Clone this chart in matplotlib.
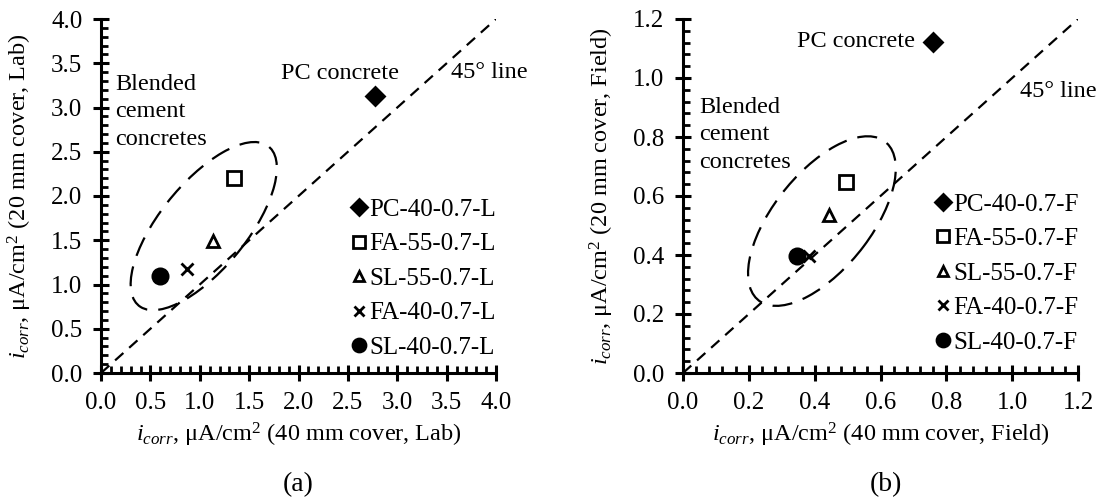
import matplotlib
matplotlib.use("Agg")
import matplotlib.pyplot as plt
from matplotlib.patches import Ellipse
from matplotlib.ticker import MultipleLocator, FormatStrFormatter

plt.rcParams['font.family'] = ['Liberation Serif', 'DejaVu Serif']
plt.rcParams['mathtext.fontset'] = 'custom'
plt.rcParams['mathtext.rm'] = 'Liberation Serif'
plt.rcParams['mathtext.it'] = 'Liberation Serif:italic'

# ---------------- data ----------------
labels_lab = ["PC-40-0.7-L", "FA-55-0.7-L", "SL-55-0.7-L", "FA-40-0.7-L", "SL-40-0.7-L"]
x_lab = [2.77, 1.35, 1.13, 0.87, 0.60]
y_lab = [3.13, 2.20, 1.49, 1.17, 1.10]

labels_field = ["PC-40-0.7-F", "FA-55-0.7-F", "SL-55-0.7-F", "FA-40-0.7-F", "SL-40-0.7-F"]
x_field = [0.760, 0.494, 0.443, 0.384, 0.345]
y_field = [1.123, 0.648, 0.534, 0.397, 0.397]

markers = ["D", "s", "^", "x", "o"]
filled = [True, False, False, True, True]
msizes = [9, 10, 9, 9, 11]

# ellipse (center, width, height, angle) in data units
ell_lab = ((1.04, 1.66), 2.23, 0.91, 55)
ell_field = ((0.422, 0.515), 0.662, 0.306, 56)

fig = plt.figure(figsize=(10.97, 5.0), dpi=100)
ax1 = fig.add_axes([0.0921, 0.254, 0.3601, 0.708])
ax2 = fig.add_axes([0.6226, 0.254, 0.3601, 0.708])

TICK_FS = 18
LAB_FS = 17.5
LEG_FS = 18
ANN_FS = 17.5


def style(ax, lim, major, minor, xl, yl):
    ax.set_xlim(0, lim)
    ax.set_ylim(0, lim)
    for s in ['top', 'right']:
        ax.spines[s].set_visible(False)
    for s in ['left', 'bottom']:
        ax.spines[s].set_linewidth(2.2)
    ax.xaxis.set_major_locator(MultipleLocator(major))
    ax.yaxis.set_major_locator(MultipleLocator(major))
    ax.xaxis.set_minor_locator(MultipleLocator(minor))
    ax.yaxis.set_minor_locator(MultipleLocator(minor))
    ax.xaxis.set_major_formatter(FormatStrFormatter('%.1f'))
    ax.yaxis.set_major_formatter(FormatStrFormatter('%.1f'))
    ax.tick_params(which='major', direction='inout', length=11, width=2.2,
                   labelsize=TICK_FS, pad=8)
    ax.tick_params(which='minor', direction='in', length=5, width=2.0)
    ax.set_xlabel(xl, fontsize=LAB_FS, labelpad=5)
    ax.set_ylabel(yl, fontsize=LAB_FS, labelpad=12)


def draw(ax, xs, ys, labels, lim, ell):
    ax.plot([0, lim], [0, lim], ls=(0, (5, 3.5)), color='black', lw=1.6, zorder=1)
    c, w, h, a = ell
    ax.add_patch(Ellipse(c, w, h, angle=a, fill=False, ec='black', lw=1.6,
                         ls=(0, (9, 5)), zorder=1))
    for x, y, lab, m, f, ms in zip(xs, ys, labels, markers, filled, msizes):
        ax.plot([x], [y], ls='none', marker=m, ms=ms, mew=2,
                mfc='black' if f else 'white', mec='black', label=lab,
                clip_on=False, zorder=3)


draw(ax1, x_lab, y_lab, labels_lab, 4.0, ell_lab)
draw(ax2, x_field, y_field, labels_field, 1.2, ell_field)

style(ax1, 4.0, 0.5, 0.1,
      r"$i_{corr}$, μA/cm$^2$ (40 mm cover, Lab)",
      r"$i_{corr}$, μA/cm$^2$ (20 mm cover, Lab)")
style(ax2, 1.2, 0.2, 0.04,
      r"$i_{corr}$, μA/cm$^2$ (40 mm cover, Field)",
      r"$i_{corr}$, μA/cm$^2$ (20 mm cover, Field)")

ax1.legend(loc='lower left', bbox_to_anchor=(0.635, 0.04), frameon=False,
           fontsize=LEG_FS, handlelength=0.6, handletextpad=0.1, markerscale=0.85,
           labelspacing=0.48, borderaxespad=0, borderpad=0)
ax2.legend(loc='lower left', bbox_to_anchor=(0.64, 0.055), frameon=False,
           fontsize=LEG_FS, handlelength=0.6, handletextpad=0.1, markerscale=0.85,
           labelspacing=0.48, borderaxespad=0, borderpad=0)

# annotations
ax1.text(3.02, 3.38, "PC concrete", fontsize=ANN_FS, ha='right', va='center')
ax1.text(3.54, 3.40, "45° line", fontsize=ANN_FS, ha='left', va='center', clip_on=False)
ax1.text(0.14, 2.95, "Blended\ncement\nconcretes", fontsize=ANN_FS, ha='left', va='center',
         linespacing=1.4)
ax2.text(0.048, 0.807, "Blended\ncement\nconcretes", fontsize=ANN_FS, ha='left', va='center',
         linespacing=1.4)
ax2.text(0.705, 1.123, "PC concrete", fontsize=ANN_FS, ha='right', va='center')
ax2.text(1.024, 0.954, "45° line", fontsize=ANN_FS, ha='left', va='center', clip_on=False)

fig.text(0.2721, 0.03, "(a)", fontsize=20, ha='center', va='center')
fig.text(0.8077, 0.03, "(b)", fontsize=20, ha='center', va='center')

fig.savefig("out.png", dpi=100)
